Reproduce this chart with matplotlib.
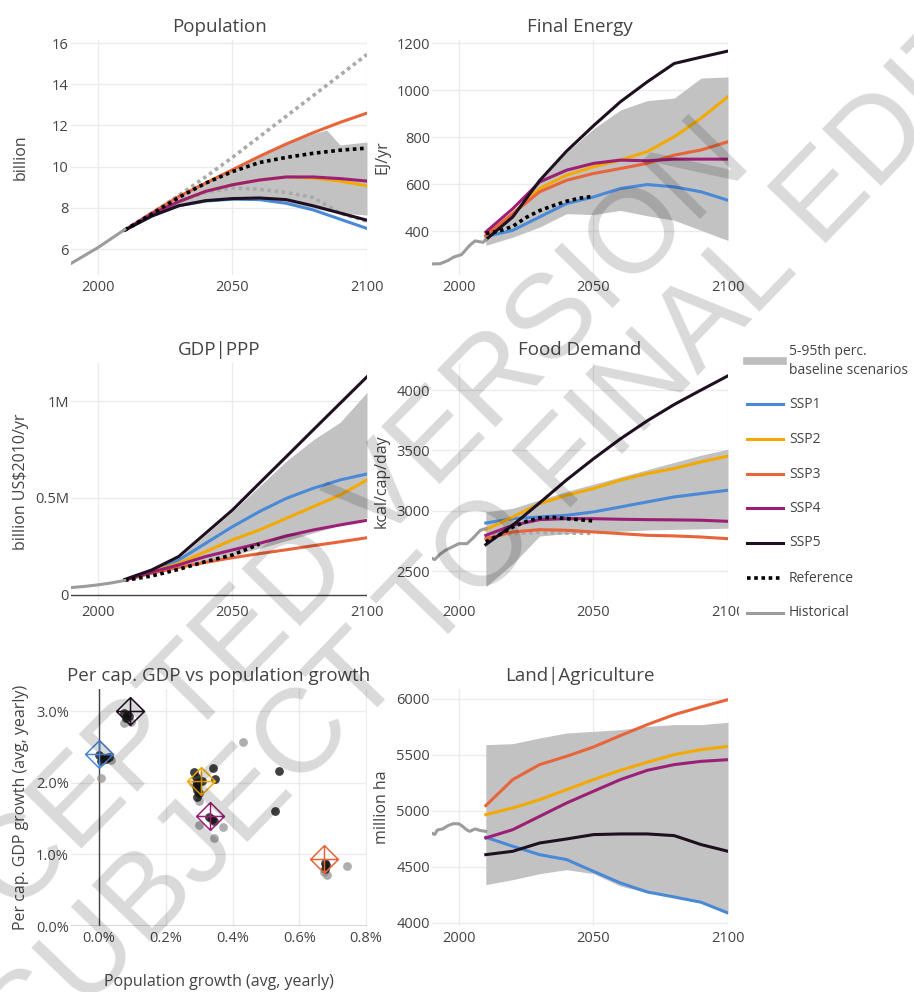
import matplotlib
matplotlib.use('Agg')
import matplotlib.pyplot as plt
from matplotlib.lines import Line2D
from matplotlib.patches import Rectangle
from matplotlib.path import Path
from matplotlib.ticker import FuncFormatter

plt.rcParams['font.family'] = ['Open Sans', 'DejaVu Sans']

W, H = 914, 992

#========================================================
# Data
#========================================================

ssp_names = ['SSP1', 'SSP2', 'SSP3', 'SSP4', 'SSP5']
ssp_colors = ['#4a89d8', '#f3a900', '#e8643a', '#9c1f76', '#1f1020']
ssp_years = [2010, 2020, 2030, 2040, 2050, 2060, 2070, 2080, 2090, 2100]

# Population (billion)
pop_hist_years = [1990, 2000, 2010]
pop_hist = [5.3, 6.07, 6.95]
pop_band_years = [2010, 2020, 2030, 2040, 2050, 2060, 2070, 2080, 2085, 2090, 2100]
pop_band_lo = [6.9, 7.6, 8.1, 8.35, 8.45, 8.45, 8.3, 8.0, 7.85, 7.75, 7.65]
pop_band_hi = [6.95, 7.75, 8.55, 9.2, 9.85, 10.5, 11.1, 11.6, 11.78, 11.05, 11.2]
pop_ssp1 = [6.92, 7.6, 8.1, 8.33, 8.42, 8.4, 8.22, 7.9, 7.45, 7.0]
pop_ssp2 = [6.92, 7.7, 8.3, 8.8, 9.12, 9.35, 9.5, 9.45, 9.3, 9.07]
pop_ssp3 = [6.92, 7.75, 8.55, 9.2, 9.85, 10.5, 11.1, 11.65, 12.15, 12.6]
pop_ssp4 = [6.92, 7.7, 8.3, 8.8, 9.12, 9.35, 9.5, 9.5, 9.42, 9.3]
pop_ssp5 = [6.92, 7.6, 8.1, 8.35, 8.45, 8.48, 8.4, 8.1, 7.75, 7.4]
pop_ref = [6.92, 7.7, 8.5, 9.2, 9.76, 10.2, 10.45, 10.65, 10.8, 10.9]
pop_un_high = [6.92, 7.75, 8.6, 9.5, 10.45, 11.45, 12.45, 13.45, 14.45, 15.45]
pop_un_low = [6.92, 7.65, 8.3, 8.75, 8.97, 8.9, 8.75, 8.5, 7.75, 7.35]

# Final Energy (EJ/yr)
fe_hist_years = [1990, 1993, 1996, 1998, 2001, 2004, 2006, 2008, 2009, 2010]
fe_hist = [260, 261, 275, 289, 300, 339, 358, 354, 352, 363]
fe_band_lo = [339, 374, 417, 474, 470, 488, 465, 446, 403, 360]
fe_band_hi = [372, 470, 612, 735, 835, 915, 955, 966, 1051, 1056]
fe_ssp1 = [377, 403, 460, 517, 545, 581, 598, 588, 567, 531]
fe_ssp2 = [381, 474, 581, 638, 673, 702, 738, 801, 880, 972]
fe_ssp3 = [381, 474, 567, 616, 645, 666, 688, 723, 745, 780]
fe_ssp4 = [396, 495, 609, 659, 688, 702, 699, 706, 706, 706]
fe_ssp5 = [363, 460, 615, 740, 848, 950, 1035, 1113, 1140, 1166]
fe_ref_years = [2010, 2015, 2020, 2025, 2030, 2035, 2040, 2045, 2050]
fe_ref = [390, 400, 420, 458, 487, 508, 527, 540, 548]

# GDP|PPP (billion US$2010/yr)
gdp_hist_years = [1990, 1995, 2000, 2005, 2010]
gdp_hist = [38000, 44000, 52000, 62000, 75000]
gdp_band_lo = [77000, 110000, 140000, 170000, 205000, 240000, 280000, 320000, 360000, 400000]
gdp_band_hi = [78000, 128000, 190000, 310000, 430000, 560000, 690000, 800000, 890000, 1045000]
gdp_ssp1 = [77000, 125000, 180000, 266000, 352000, 430000, 498000, 550000, 593000, 624000]
gdp_ssp2 = [77000, 120000, 163000, 223000, 284000, 335000, 395000, 455000, 515000, 593000]
gdp_ssp3 = [77000, 112000, 142000, 168000, 192000, 213000, 233000, 254000, 274000, 295000]
gdp_ssp4 = [77000, 118000, 155000, 198000, 232000, 266000, 304000, 335000, 361000, 385000]
gdp_ssp5 = [80000, 129000, 198000, 318000, 438000, 576000, 713000, 851000, 988000, 1125000]
gdp_ref_years = [2010, 2020, 2030, 2040, 2050, 2060]
gdp_ref = [75000, 98000, 132000, 172000, 206000, 262000]

# Food Demand (kcal/cap/day)
food_hist_years = [1990, 1991, 1993, 1995, 1998, 2000, 2003, 2005, 2008, 2010]
food_hist = [2605, 2595, 2640, 2672, 2705, 2727, 2727, 2768, 2838, 2852]
food_band_lo = [2370, 2560, 2790, 2810, 2820, 2830, 2840, 2845, 2850, 2855]
food_band_hi = [2990, 3020, 3090, 3160, 3220, 3280, 3340, 3400, 3460, 3510]
food_ssp1 = [2898, 2934, 2948, 2962, 2990, 3031, 3073, 3114, 3142, 3170]
food_ssp2 = [2843, 2948, 3059, 3128, 3184, 3253, 3308, 3350, 3405, 3452]
food_ssp3 = [2768, 2824, 2843, 2838, 2824, 2810, 2796, 2791, 2782, 2768]
food_ssp4 = [2796, 2879, 2926, 2934, 2934, 2929, 2926, 2924, 2921, 2912]
food_ssp5 = [2719, 2880, 3065, 3255, 3430, 3595, 3745, 3880, 4000, 4118]
food_ref_years = [2010, 2015, 2020, 2025, 2030, 2035, 2040, 2045, 2050]
food_ref = [2741, 2800, 2865, 2910, 2940, 2945, 2934, 2925, 2915]
food_alt_years = [2010, 2020, 2030, 2040, 2050]
food_alt = [2790, 2810, 2820, 2815, 2812]

# Land|Agriculture (million ha)
land_hist_years = [1990, 1991, 1992, 1994, 1996, 1998, 2000, 2001, 2003, 2004, 2006, 2008, 2010]
land_hist = [4800, 4790, 4830, 4840, 4870, 4887, 4885, 4870, 4830, 4818, 4840, 4825, 4818]
land_band_lo = [4342, 4387, 4440, 4476, 4440, 4330, 4270, 4230, 4180, 4085]
land_band_hi = [5592, 5601, 5652, 5696, 5711, 5726, 5756, 5771, 5771, 5792]
land_ssp1 = [4765, 4685, 4610, 4566, 4461, 4357, 4277, 4232, 4185, 4089]
land_ssp2 = [4967, 5027, 5101, 5190, 5280, 5363, 5435, 5503, 5548, 5577]
land_ssp3 = [5048, 5280, 5414, 5488, 5571, 5673, 5771, 5860, 5929, 5994]
land_ssp4 = [4759, 4833, 4952, 5071, 5176, 5280, 5363, 5414, 5443, 5458]
land_ssp5 = [4610, 4640, 4714, 4750, 4789, 4795, 4795, 4780, 4700, 4640]

# Per cap. GDP vs population growth (% per year)
ssp_pop_growth = [0.0, 0.305, 0.674, 0.333, 0.094]
ssp_gdp_growth = [2.40, 2.03, 0.94, 1.535, 3.00]
model_pop_growth = [0.075, 0.085, 0.08, 0.09, 0.0, 0.01, 0.02, 0.005, 0.03,
                    0.285, 0.29, 0.295, 0.29, 0.295, 0.30, 0.295, 0.31, 0.343, 0.348,
                    0.539, 0.527, 0.33, 0.34, 0.345, 0.678, 0.68, 0.676]
model_gdp_growth = [2.97, 2.95, 2.90, 2.93, 2.38, 2.35, 2.33, 2.30, 2.36,
                    2.15, 2.08, 2.00, 1.95, 1.90, 1.85, 1.80, 2.02, 2.21, 2.05,
                    2.16, 1.61, 1.52, 1.50, 1.47, 0.88, 0.85, 0.80]
other_pop_growth = [0.432, 0.742, 0.007, 0.371, 0.345, 0.30, 0.075, 0.095, 0.035, 0.682, 0.675, 0.30]
other_gdp_growth = [2.57, 0.84, 2.06, 1.38, 1.23, 1.41, 2.83, 2.85, 2.32, 0.71, 0.75, 1.74]

#========================================================
# Figure
#========================================================

band_color = '#c2c2c2'
hist_color = '#9c9c9c'
text_color = '#444444'

fig = plt.figure(figsize=(W / 100, H / 100), dpi=100, facecolor='white')


def add_panel(x0, y0, x1, y1):
    # panel box given in pixels from the top left corner
    return fig.add_axes([x0 / W, 1 - y1 / H, (x1 - x0) / W, (y1 - y0) / H])


def style(ax, title, ylabel, width_px=296):
    for s in ax.spines.values():
        s.set_visible(False)
    ax.grid(True, color='#ebebeb', lw=1)
    ax.set_axisbelow(True)
    ax.tick_params(axis='x', length=0, colors=text_color, labelsize=10.5, pad=3.5)
    ax.tick_params(axis='y', length=0, colors=text_color, labelsize=10.5, pad=1.5)
    ax.set_title(title, fontsize=13.5, color=text_color, pad=5.5)
    ax.set_ylabel(ylabel, fontsize=11.5, color=text_color)
    ax.yaxis.set_label_coords(-42 / width_px, 0.5)


def draw_series(ax, band_years, band_lo, band_hi, ssps, hist_years, hist, ref_years=None, ref=None):
    ax.fill_between(band_years, band_lo, band_hi, color=band_color, lw=0, zorder=1)
    for vals, c in zip(ssps, ssp_colors):
        ax.plot(ssp_years, vals, color=c, lw=2.2, zorder=3)
    if ref is not None:
        ax.plot(ref_years, ref, color='black', lw=2.6, ls=(0, (1, 1)), zorder=4)
    ax.plot(hist_years, hist, color=hist_color, lw=2.2, zorder=4)
    ax.set_xlim(1990, 2100)
    ax.set_xticks([2000, 2050, 2100])


# Population
ax = add_panel(71, 40, 367, 275)
ax.plot(ssp_years, pop_un_high, color='#aaaaaa', lw=2.6, ls=(0, (1, 1)), zorder=2)
ax.plot(ssp_years, pop_un_low, color='#aaaaaa', lw=2.6, ls=(0, (1, 1)), zorder=2)
draw_series(ax, pop_band_years, pop_band_lo, pop_band_hi,
            [pop_ssp1, pop_ssp2, pop_ssp3, pop_ssp4, pop_ssp5],
            pop_hist_years, pop_hist, ssp_years, pop_ref)
ax.set_ylim(4.74, 16.15)
ax.set_yticks([6, 8, 10, 12, 14, 16])
style(ax, 'Population', 'billion')

# Final Energy
ax = add_panel(432, 40, 728, 275)
draw_series(ax, ssp_years, fe_band_lo, fe_band_hi,
            [fe_ssp1, fe_ssp2, fe_ssp3, fe_ssp4, fe_ssp5],
            fe_hist_years, fe_hist, fe_ref_years, fe_ref)
ax.set_ylim(213, 1213)
ax.set_yticks([400, 600, 800, 1000, 1200])
style(ax, 'Final Energy', 'EJ/yr')

# GDP|PPP
ax = add_panel(71, 363, 367, 600)
draw_series(ax, ssp_years, gdp_band_lo, gdp_band_hi,
            [gdp_ssp1, gdp_ssp2, gdp_ssp3, gdp_ssp4, gdp_ssp5],
            gdp_hist_years, gdp_hist, gdp_ref_years, gdp_ref)
ax.axhline(0, color=text_color, lw=1, zorder=2)
ax.set_ylim(-26000, 1196000)
ax.set_yticks([0, 500000, 1000000], labels=['0', '0.5M', '1M'])
style(ax, 'GDP|PPP', 'billion US$2010/yr')

# Food Demand
ax = add_panel(432, 363, 728, 600)
ax.plot(food_alt_years, food_alt, color='#aaaaaa', lw=2.6, ls=(0, (1, 1)), zorder=2)
draw_series(ax, ssp_years, food_band_lo, food_band_hi,
            [food_ssp1, food_ssp2, food_ssp3, food_ssp4, food_ssp5],
            food_hist_years, food_hist, food_ref_years, food_ref)
ax.set_ylim(2260, 4224)
ax.set_yticks([2500, 3000, 3500, 4000])
style(ax, 'Food Demand', 'kcal/cap/day')

# Land|Agriculture
ax = add_panel(432, 689, 728, 926)
draw_series(ax, ssp_years, land_band_lo, land_band_hi,
            [land_ssp1, land_ssp2, land_ssp3, land_ssp4, land_ssp5],
            land_hist_years, land_hist)
ax.set_ylim(3973, 6089)
ax.set_yticks([4000, 4500, 5000, 5500, 6000])
style(ax, 'Land|Agriculture', 'million ha')

# Scatter panel
ax = add_panel(71, 689, 367, 926)
ax.axhline(0, color=text_color, lw=1, zorder=2)
ax.axvline(0, color=text_color, lw=1, zorder=2)
ax.scatter(other_pop_growth, other_gdp_growth, s=40, color='#8c8c8c', alpha=0.7, lw=0, zorder=3)
ax.scatter(model_pop_growth, model_gdp_growth, s=40, color='#111111', alpha=0.8, lw=0, zorder=4)
diamond_cross = Path([(0, 1), (1, 0), (0, -1), (-1, 0), (0, 1), (0, -1), (-1, 0), (1, 0)],
                     [Path.MOVETO, Path.LINETO, Path.LINETO, Path.LINETO, Path.LINETO,
                      Path.LINETO, Path.MOVETO, Path.LINETO])
for gx, gy, c in zip(ssp_pop_growth, ssp_gdp_growth, ssp_colors):
    ax.plot([gx], [gy], marker=diamond_cross, ms=20, mfc='none', mec=c, mew=1.1, zorder=5)
ax.set_xlim(-0.084, 0.803)
ax.set_ylim(0, 3.307)
ax.set_xticks([0, 0.2, 0.4, 0.6, 0.8])
ax.set_yticks([0, 1, 2, 3])
ax.xaxis.set_major_formatter(FuncFormatter(lambda v, p: f'{v:.1f}%'))
ax.yaxis.set_major_formatter(FuncFormatter(lambda v, p: f'{v:.1f}%'))
style(ax, 'Per cap. GDP vs population growth', 'Per cap. GDP growth (avg, yearly)')
ax.set_xlabel('Population growth (avg, yearly)', fontsize=11.5, color=text_color)
ax.xaxis.set_label_coords(0.5, -48 / 237)

#========================================================
# Legend
#========================================================

fig.add_artist(Rectangle((739 / W, 1 - 628 / H), (W - 739) / W, 290 / H,
                         transform=fig.transFigure, facecolor='white', edgecolor='none', zorder=1.5))

legend_labels = ['5-95th perc.\nbaseline scenarios'] + ssp_names + ['Reference', 'Historical']
legend_y = [361, 404, 439, 474, 508, 543, 578, 613]
legend_styles = [dict(color='#bdbdbd', lw=5.5)] + \
                [dict(color=c, lw=2.2) for c in ssp_colors] + \
                [dict(color='black', lw=2.6, ls=(0, (1, 1))), dict(color=hist_color, lw=2.2)]
for lab, y, st in zip(legend_labels, legend_y, legend_styles):
    fy = 1 - y / H
    fig.add_artist(Line2D([747 / W, 783 / W], [fy, fy], transform=fig.transFigure, zorder=2, **st))
    fig.text(789 / W, fy, lab, va='center', ha='left', fontsize=10, color=text_color,
             linespacing=1.3, zorder=3)

#========================================================
# Watermark
#========================================================

fig.text(305 / W, 1 - 578 / H, 'ACCEPTED VERSION', rotation=45.5, rotation_mode='anchor',
         ha='center', va='center', fontsize=86, color='black', alpha=0.15,
         family='Liberation Sans', zorder=10)
fig.text(525 / W, 1 - 511 / H, 'SUBJECT TO FINAL EDITS', rotation=46, rotation_mode='anchor',
         ha='center', va='center', fontsize=86, color='black', alpha=0.15,
         family='Liberation Sans', zorder=10)

fig.savefig('out.png', dpi=100, facecolor='white')
